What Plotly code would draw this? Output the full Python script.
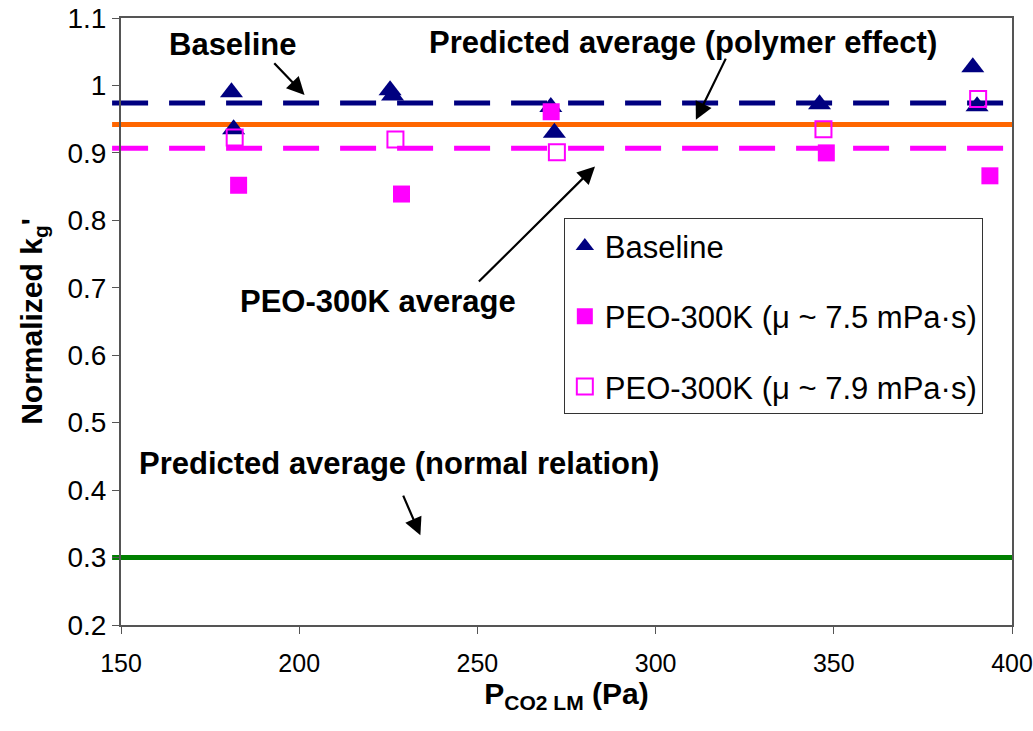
import plotly.graph_objects as go

# ---- data ----
base_x = [181.0, 181.6, 225.5, 226.2, 270.6, 271.6, 346.0, 389.0, 390.2]
base_y = [0.990, 0.935, 0.993, 0.985, 0.968, 0.930, 0.972, 1.027, 0.969]

peo75_x = [183.0, 228.7, 270.7, 347.9, 393.8]
peo75_y = [0.852, 0.839, 0.961, 0.900, 0.866]

peo79_x = [181.9, 227.0, 272.3, 347.1, 390.5]
peo79_y = [0.923, 0.920, 0.901, 0.935, 0.980]

avg_names = ["Baseline avg", "Predicted (polymer effect)", "PEO-300K avg", "Predicted (normal relation)"]
avg_values = [0.974, 0.942, 0.907, 0.300]
avg_colors = ["#000080", "#FF6600", "#FF00FF", "#008000"]
avg_dash = ["36px,21px", "solid", "36px,21px", "solid"]

x_ticks = [150, 200, 250, 300, 350, 400]
y_ticks = [0.2, 0.3, 0.4, 0.5, 0.6, 0.7, 0.8, 0.9, 1.0, 1.1]
y_ticktext = ["0.2", "0.3", "0.4", "0.5", "0.6", "0.7", "0.8", "0.9", "1", "1.1"]

FONT = "Arial, Liberation Sans, sans-serif"

fig = go.Figure()

fig.add_trace(go.Scatter(
    x=base_x, y=base_y, mode="markers", name="Baseline",
    marker=dict(symbol="triangle-up", size=20, color="#000080"),
    legendgroup="a"))
fig.add_trace(go.Scatter(
    x=peo75_x, y=peo75_y, mode="markers", name="PEO-300K (μ ~ 7.5 mPa·s)",
    marker=dict(symbol="square", size=17, color="#FF00FF"),
    legendgroup="b"))
fig.add_trace(go.Scatter(
    x=peo79_x, y=peo79_y, mode="markers", name="PEO-300K (μ ~ 7.9 mPa·s)",
    marker=dict(symbol="square-open", size=16, color="#FF00FF",
                line=dict(width=2, color="#FF00FF")),
    legendgroup="c"))

# reference lines (horizontal levels)
for v, c, d in zip(avg_values, avg_colors, avg_dash):
    fig.add_shape(type="line", xref="paper", yref="y", x0=-0.01, x1=1.0,
                  y0=v, y1=v, line=dict(color=c, width=5, dash=d), layer="below")

# text labels
labels = [
    ("<b>Baseline</b>", 181.5, 1.060, 31),
    ("<b>Predicted average (polymer effect)</b>", 307.6, 1.063, 31),
    ("<b>PEO-300K average</b>", 222.2, 0.680, 31),
    ("<b>Predicted average (normal relation)</b>", 228.1, 0.440, 31),
]
for t, x, y, s in labels:
    fig.add_annotation(x=x, y=y, text=t, showarrow=False,
                       font=dict(family=FONT, size=s, color="black"))

# arrows (tail -> head)
arrows = [
    (192.6, 1.035, 201.5, 0.986),
    (319.9, 1.042, 311.3, 0.949),
    (250.0, 0.707, 283.0, 0.880),
    (229.0, 0.394, 234.0, 0.333),
]
for tx, ty, hx, hy in arrows:
    fig.add_annotation(x=hx, y=hy, ax=tx, ay=ty, axref="x", ayref="y",
                       text="", showarrow=True, arrowhead=2, arrowsize=1.6,
                       arrowwidth=2.2, arrowcolor="black")

fig.update_layout(
    width=1033, height=731,
    margin=dict(l=121, r=21, t=18, b=106, autoexpand=False),
    paper_bgcolor="white", plot_bgcolor="white",
    font=dict(family=FONT, color="black"),
    showlegend=True,
    legend=dict(x=0.497, y=0.670, xanchor="left", yanchor="top",
                bgcolor="white", bordercolor="#333333", borderwidth=1,
                font=dict(family=FONT, size=31, color="black"),
                tracegroupgap=27, itemwidth=30),
    xaxis=dict(range=[150, 400], tickvals=x_ticks, ticks="outside", ticklen=7,
               tickcolor="#555555", showline=True, linecolor="#555555", linewidth=2,
               mirror=True, showgrid=False, zeroline=False, automargin=False,
               ticklabeloverflow="allow", ticklabelstandoff=8,
               tickfont=dict(family=FONT, size=25),
               title=dict(text="<b>P<sub>CO2 LM</sub> (Pa)</b>",
                          font=dict(family=FONT, size=30), standoff=2)),
    yaxis=dict(range=[0.2, 1.1], tickvals=y_ticks, ticktext=y_ticktext,
               ticks="outside", ticklen=7, tickcolor="#555555",
               showline=True, linecolor="#555555", linewidth=2, mirror=True,
               showgrid=False, zeroline=False, automargin=False,
               tickfont=dict(family=FONT, size=28),
               title=dict(text="<b>Normalized k<sub>g</sub>'</b>",
                          font=dict(family=FONT, size=30), standoff=16)),
)

fig.write_html("out.html")
